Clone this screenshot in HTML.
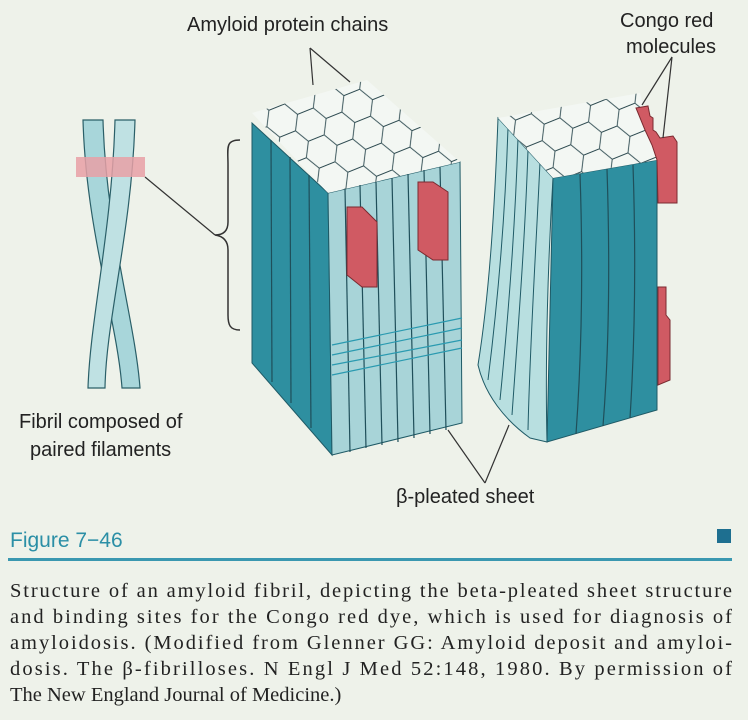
<!DOCTYPE html>
<html><head><meta charset="utf-8"><style>
body{margin:0;background:#eef2ea;width:748px;height:720px;overflow:hidden}
svg{display:block}
</style></head><body>
<svg width="748" height="720" viewBox="0 0 748 720">
<defs>
<pattern id="hex" width="50" height="29" patternUnits="userSpaceOnUse" patternTransform="rotate(-22)">
<path d="M0 14.5 L8 0 L25 0 L33 14.5 L25 29 L8 29 Z M33 14.5 L50 14.5" fill="none" stroke="#2d4a50" stroke-width="0.9"/>
</pattern>
</defs>
<rect width="748" height="720" fill="#eef2ea"/>
<g stroke="#2a5f68" stroke-width="1.2">
<path d="M83 120 L103 120 C106 230 135 320 140 388 L122 388 C117 320 86 230 83 120 Z" fill="#a8d6da"/>
<path d="M115 120 L135 120 C132 230 106 320 105 388 L88 388 C90 320 112 230 115 120 Z" fill="#bfe1e3"/>
<rect x="76" y="157" width="69" height="20" fill="#e8a0a6" opacity="0.85" stroke="none"/>
</g>
<path d="M145 177 L215 235" stroke="#333" stroke-width="1.2" fill="none"/>
<path d="M240 140 C225 140 228 148 228 165 L228 222 C228 232 222 235 215 235 C222 236 228 240 228 250 L228 315 C228 325 230 330 240 330" stroke="#333" stroke-width="1.5" fill="none"/>
<g>
<polygon points="252,123 328,193 332,455 252,363" fill="#2e8fa0" stroke="#1f5a66"/>
<polygon points="328,193 460,162 462,423 332,455" fill="#a8d4d8" stroke="#1f5a66"/>
<polygon points="252,113 367,80 460,162 328,193" fill="#f3f7f3"/>
<polygon points="252,113 367,80 460,162 328,193" fill="url(#hex)"/>
<g stroke="#1f4f5a" stroke-width="1.2">
<line x1="271" y1="140" x2="272" y2="382"/><line x1="290" y1="157" x2="291" y2="403"/><line x1="309" y1="175" x2="311" y2="428"/>
<line x1="345" y1="189" x2="350" y2="452"/><line x1="360" y1="185" x2="366" y2="448"/><line x1="376" y1="182" x2="382" y2="445"/><line x1="392" y1="178" x2="398" y2="442"/><line x1="408" y1="174" x2="414" y2="438"/><line x1="424" y1="170" x2="430" y2="434"/><line x1="440" y1="167" x2="446" y2="430"/>
</g>
<g stroke="#2a9ab0" stroke-width="1.2" fill="none">
<path d="M332 345 L462 318"/><path d="M332 355 L462 328"/><path d="M332 365 L462 340"/><path d="M332 375 L462 348"/>
</g>
<polygon points="347,207 362,207 377,222 377,287 362,287 347,275" fill="#d05a63" stroke="#7a2a30"/>
<polygon points="418,182 433,182 448,192 448,260 433,260 418,250" fill="#d05a63" stroke="#7a2a30"/>
</g>
<g>
<path d="M498 118 L553 178 C548 260 545 360 547 442 L530 438 C505 420 485 395 478 365 C490 290 495 200 498 118 Z" fill="#b8dfe0" stroke="#1f5a66"/>
<g stroke="#1f5a66" stroke-width="1" fill="none">
<path d="M508 128 C505 220 498 300 488 380"/><path d="M518 138 C515 230 508 320 500 400"/><path d="M528 150 C525 240 518 330 512 415"/><path d="M540 162 C536 250 530 340 528 430"/>
</g>
<polygon points="553,178 657,160 657,410 547,442" fill="#2e8fa0" stroke="#1f5a66"/>
<g stroke="#1f4f5a" stroke-width="1.2" fill="none">
<path d="M580 174 C583 260 582 350 576 434"/><path d="M607 169 C610 260 609 350 603 426"/><path d="M633 165 C636 255 635 340 630 418"/>
</g>
<polygon points="498,118 640,93 657,160 553,178" fill="#f3f7f3"/>
<polygon points="498,118 640,93 657,160 553,178" fill="url(#hex)"/>
<polygon points="636,108 648,106 650,116 653,118 653,130 656,132 660,138 673,136 677,142 677,203 658,203 657,160 652,145 645,130" fill="#d05a63" stroke="#7a2a30"/>
<polygon points="658,287 666,287 666,315 670,320 670,380 658,385" fill="#d05a63" stroke="#7a2a30"/>
</g>
<g stroke="#333" stroke-width="1.2" fill="none">
<path d="M310 48 L313 85"/><path d="M310 48 L350 82"/>
<path d="M672 57 L642 105"/><path d="M672 57 L663 138"/>
<path d="M448 430 L485 483"/><path d="M485 483 L509 425"/>
</g>
<g font-family="'Liberation Sans',sans-serif" font-size="20" fill="#222">
<text x="187" y="31">Amyloid protein chains</text>
<text x="620" y="27">Congo red</text>
<text x="626" y="53">molecules</text>
<text x="19" y="428">Fibril composed of</text>
<text x="30" y="456">paired filaments</text>
<text x="396" y="503">β-pleated sheet</text>
</g>
<text x="10" y="547" font-family="'Liberation Sans',sans-serif" font-size="21" fill="#2b8fa6">Figure 7−46</text>
<rect x="717" y="529" width="14" height="14" fill="#1e6f90"/>
<rect x="8" y="558" width="724" height="3" fill="#3a98b0"/>
<g font-family="'Liberation Serif',serif" font-size="20.5" fill="#222">
<text x="10" y="597" textLength="722" lengthAdjust="spacing">Structure of an amyloid fibril, depicting the beta-pleated sheet structure</text>
<text x="10" y="623" textLength="722" lengthAdjust="spacing">and binding sites for the Congo red dye, which is used for diagnosis of</text>
<text x="10" y="649" textLength="722" lengthAdjust="spacing">amyloidosis. (Modified from Glenner GG: Amyloid deposit and amyloi-</text>
<text x="10" y="675" textLength="722" lengthAdjust="spacing">dosis. The β-fibrilloses. N Engl J Med 52:148, 1980. By permission of</text>
<text x="10" y="701">The New England Journal of Medicine.)</text>
</g>
</svg>
</body></html>
